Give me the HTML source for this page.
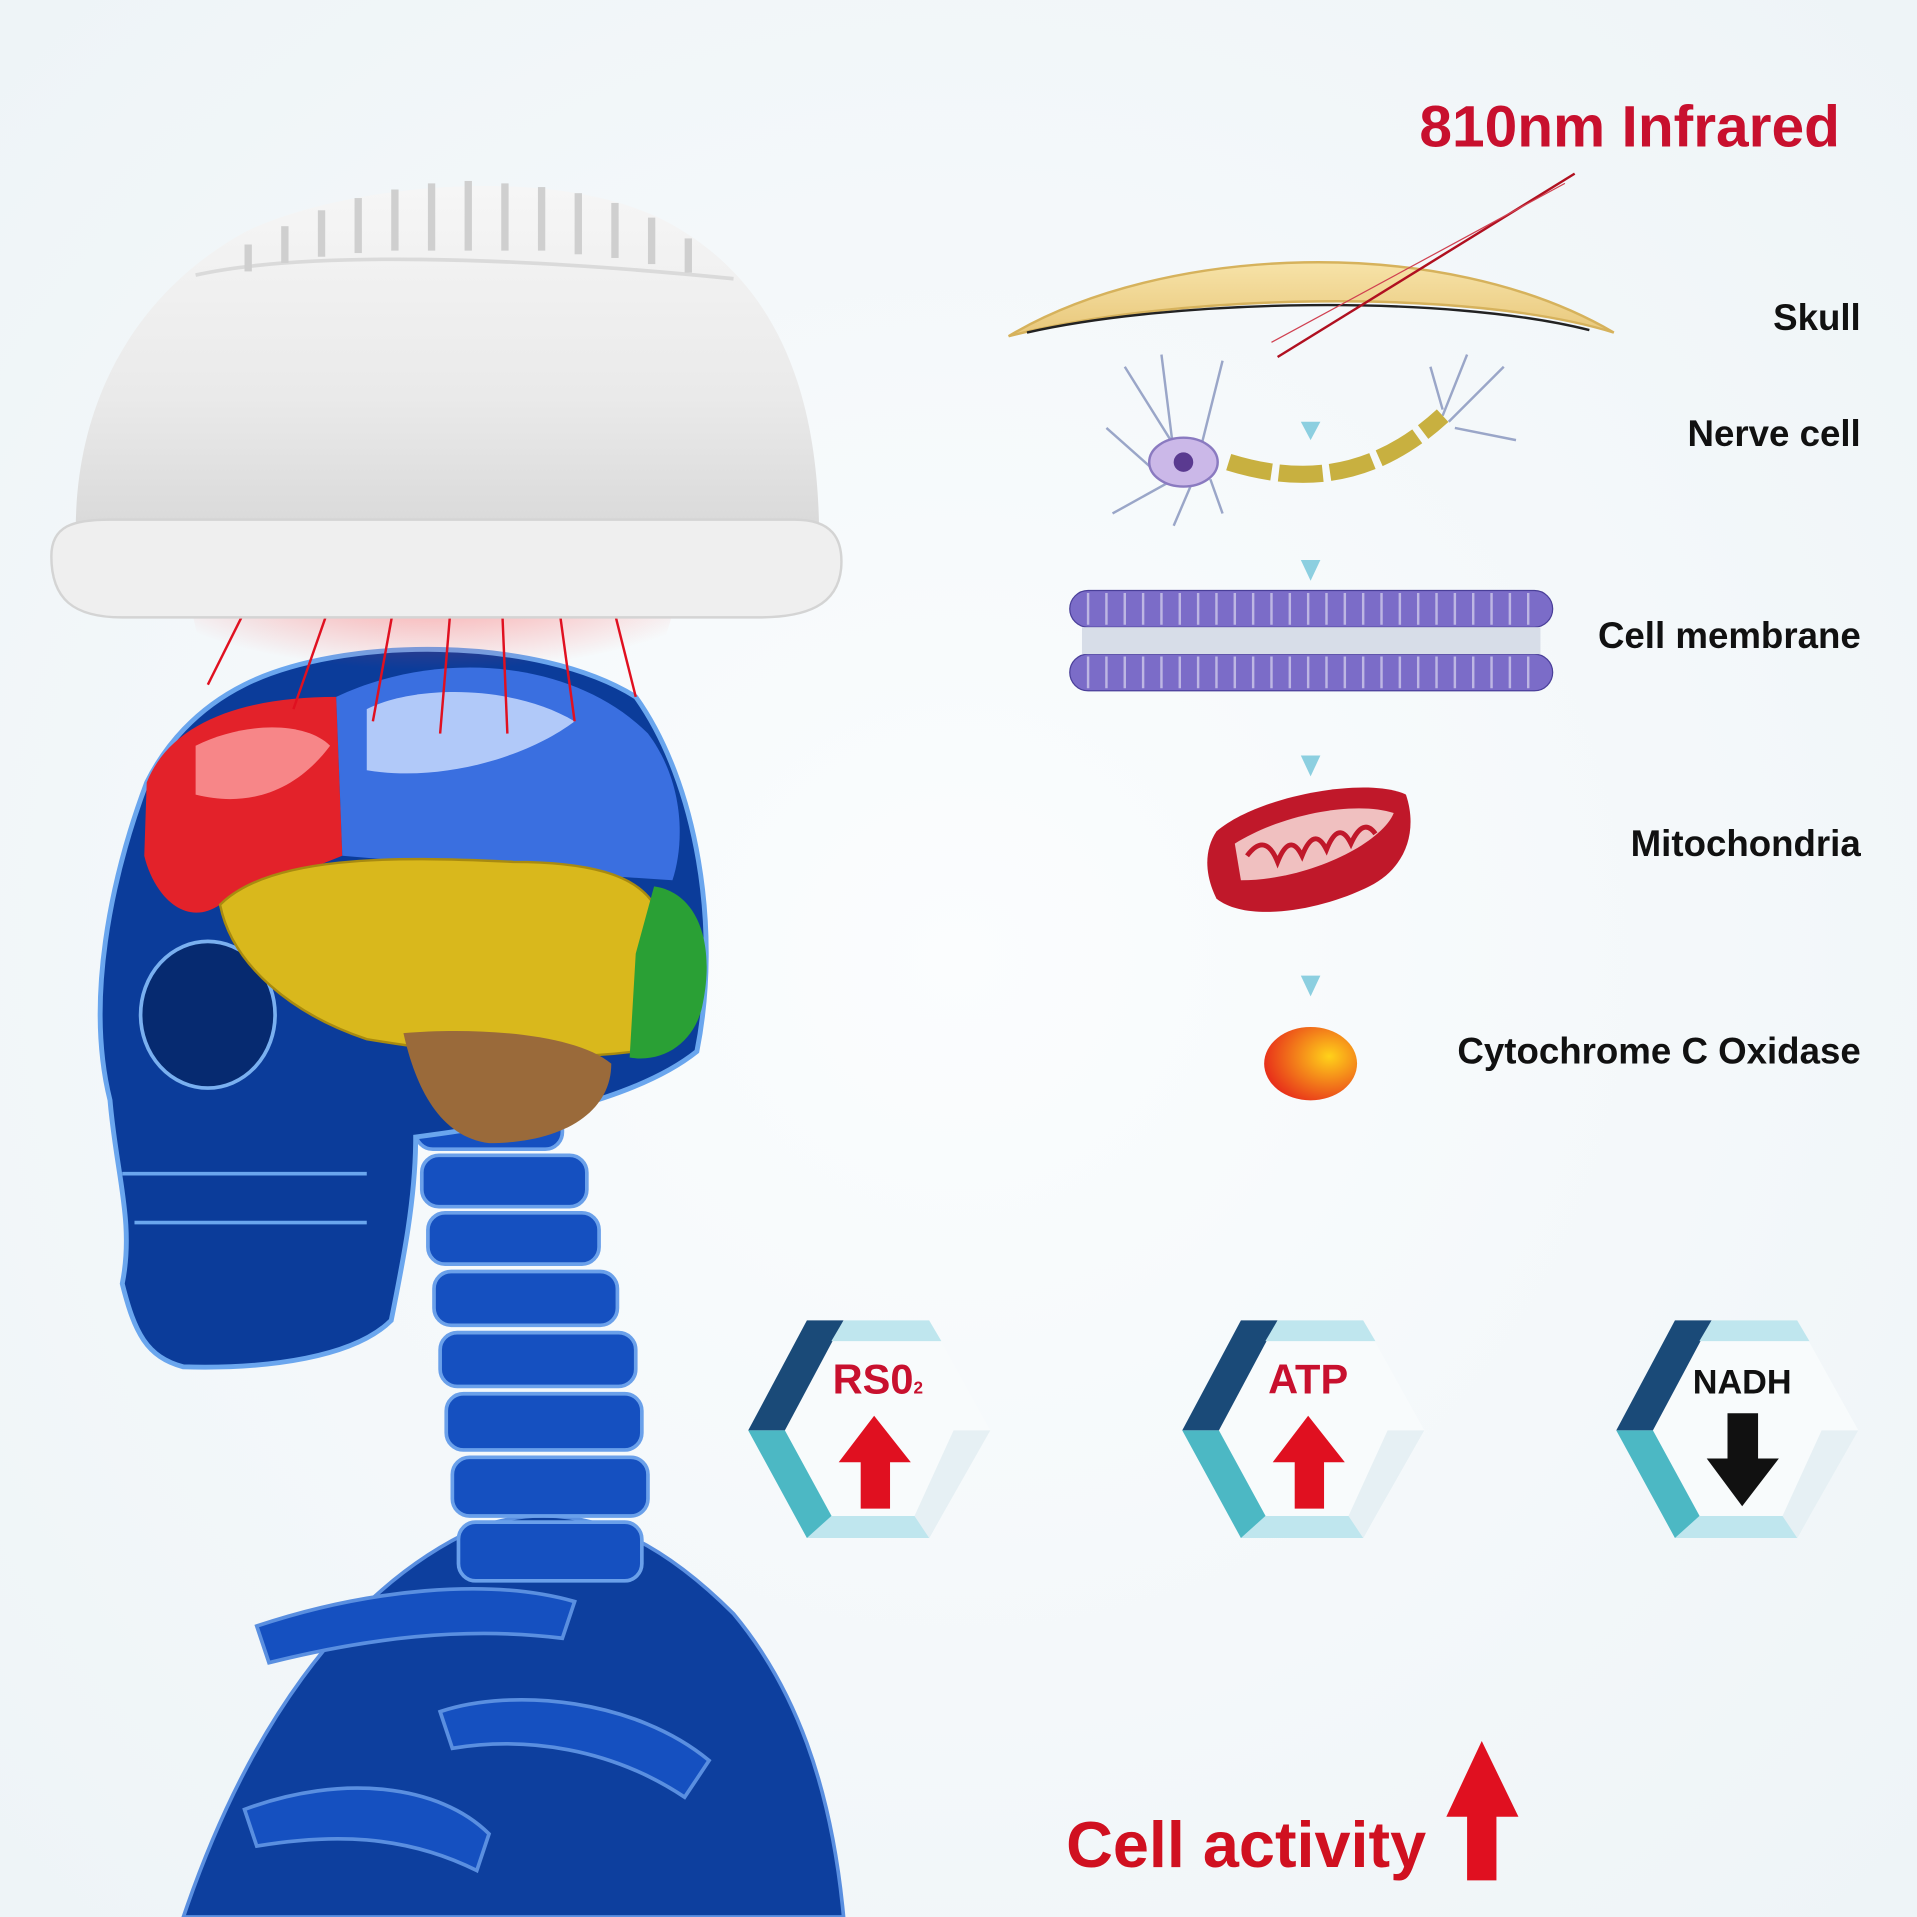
<!DOCTYPE html>
<html><head><meta charset="utf-8"><style>
html,body{margin:0;padding:0;background:#f3f7f9;}
svg{display:block;width:1917px;height:1917px;}
text{font-family:"Liberation Sans",sans-serif;}
</style></head><body>
<svg viewBox="0 0 1568 1568" xmlns="http://www.w3.org/2000/svg">
<defs>
<radialGradient id="bg" cx="0.5" cy="0.5" r="0.7"><stop offset="0" stop-color="#fbfdfe"/><stop offset="1" stop-color="#eef4f7"/></radialGradient>
<linearGradient id="helm" x1="0" y1="0" x2="0" y2="1"><stop offset="0" stop-color="#f6f6f6"/><stop offset="0.6" stop-color="#eaeaea"/><stop offset="1" stop-color="#d8d8d8"/></linearGradient>
<radialGradient id="ball" cx="0.7" cy="0.4" r="0.7"><stop offset="0" stop-color="#ffd21a"/><stop offset="1" stop-color="#e8321a"/></radialGradient>
<radialGradient id="glow" cx="0.5" cy="0" r="0.6"><stop offset="0" stop-color="#ff4040" stop-opacity="0.55"/><stop offset="1" stop-color="#ff4040" stop-opacity="0"/></radialGradient>
<linearGradient id="skullg" x1="0" y1="0" x2="0" y2="1"><stop offset="0" stop-color="#f7e3a8"/><stop offset="1" stop-color="#e8c77a"/></linearGradient>
</defs>
<rect width="1568" height="1568" fill="url(#bg)"/>

<g fill="#0d3f9e" stroke="#5a8fe0" stroke-width="3">
<path d="M150 1568 C200 1420 280 1300 390 1250 C470 1220 540 1260 600 1320 C650 1380 680 1460 690 1568 Z"/>
<path d="M210 1330 C300 1300 400 1290 470 1310 L460 1340 C380 1330 300 1340 220 1360 Z" fill="#1550c0"/>
<path d="M360 1400 C420 1380 520 1390 580 1440 L560 1470 C500 1430 430 1420 370 1430 Z" fill="#1550c0"/>
<path d="M200 1480 C280 1450 360 1460 400 1500 L390 1530 C330 1500 270 1500 210 1510 Z" fill="#1550c0"/>
</g>
<g fill="#1550c0" stroke="#6aa0ea" stroke-width="3">
<rect x="340" y="900" width="120" height="40" rx="14"/>
<rect x="345" y="945" width="135" height="42" rx="14"/>
<rect x="350" y="992" width="140" height="42" rx="14"/>
<rect x="355" y="1040" width="150" height="44" rx="14"/>
<rect x="360" y="1090" width="160" height="44" rx="14"/>
<rect x="365" y="1140" width="160" height="46" rx="14"/>
<rect x="370" y="1192" width="160" height="48" rx="14"/>
<rect x="375" y="1245" width="150" height="48" rx="14"/>
</g>
<path d="M120 640 C90 720 70 820 90 900 C95 960 110 1000 100 1050 C110 1090 120 1110 150 1118 C220 1120 290 1110 320 1080 C330 1030 340 980 340 930 C420 920 520 900 570 860 C590 760 570 640 520 570 C440 520 280 520 200 560 C160 580 135 610 120 640 Z" fill="#0b3c9a" stroke="#6aa6ee" stroke-width="4"/>
<path d="M100 960 L300 960 M110 1000 L300 1000" stroke="#6aa6ee" stroke-width="3"/>
<ellipse cx="170" cy="830" rx="55" ry="60" fill="#062a70" stroke="#7ab0f0" stroke-width="3"/>
<path d="M120 640 C140 590 200 570 275 570 L280 700 L180 740 C150 760 125 730 118 700 Z" fill="#e3222a"/>
<path d="M275 570 C360 530 470 540 530 600 C560 640 560 690 550 720 L400 710 L280 700 Z" fill="#3a6fe0"/>
<path d="M300 580 C340 560 420 560 470 590 C430 620 360 640 300 630 Z" fill="#cfe0ff" opacity="0.8"/>
<path d="M160 610 C200 590 250 590 270 610 C240 650 200 660 160 650 Z" fill="#ffb0b0" opacity="0.7"/>
<path d="M180 740 C220 700 320 700 420 705 C480 705 520 715 535 740 L520 860 C440 870 360 860 300 850 C240 830 190 790 180 740 Z" fill="#d9b81c" stroke="#a88a10" stroke-width="2"/>
<path d="M535 725 C570 730 585 770 575 820 C570 850 545 870 515 865 L520 780 Z" fill="#2aa035"/>
<path d="M330 845 C390 840 470 845 500 870 C500 910 460 935 400 935 C360 930 340 890 330 845 Z" fill="#9a6a3a"/>
<path d="M150 470 L560 470 L520 600 L180 600 Z" fill="url(#glow)"/>
<g stroke="#e01020" stroke-width="2">
<line x1="205" y1="490" x2="170" y2="560"/><line x1="275" y1="480" x2="240" y2="580"/>
<line x1="325" y1="480" x2="305" y2="590"/><line x1="370" y1="480" x2="360" y2="600"/>
<line x1="410" y1="480" x2="415" y2="600"/><line x1="455" y1="480" x2="470" y2="590"/>
<line x1="500" y1="490" x2="520" y2="570"/>
</g>
<path d="M62 440 C60 330 110 240 200 190 C280 150 470 130 560 190 C640 240 670 330 670 440 Z" fill="url(#helm)"/>
<path d="M160 225 C250 205 420 210 600 228" stroke="#dadada" stroke-width="3" fill="none"/>
<g fill="#cfcfcf">
<rect x="200" y="200" width="6" height="22"/><rect x="230" y="185" width="6" height="30"/><rect x="260" y="172" width="6" height="38"/>
<rect x="290" y="162" width="6" height="45"/><rect x="320" y="155" width="6" height="50"/><rect x="350" y="150" width="6" height="55"/>
<rect x="380" y="148" width="6" height="57"/><rect x="410" y="150" width="6" height="55"/><rect x="440" y="153" width="6" height="52"/>
<rect x="470" y="158" width="6" height="50"/><rect x="500" y="166" width="6" height="45"/><rect x="530" y="178" width="6" height="38"/>
<rect x="560" y="195" width="6" height="28"/>
</g>
<path d="M42 455 C42 430 60 425 90 425 L650 425 C680 425 690 440 688 465 C685 495 660 505 620 505 L100 505 C60 505 42 490 42 455 Z" fill="#efefef" stroke="#d4d4d4" stroke-width="2"/>

<text x="1505" y="120" text-anchor="end" font-size="48" font-weight="bold" fill="#c8102e">810nm Infrared</text>
<path d="M825 275 C950 200 1180 190 1320 272 C1200 235 960 240 825 275 Z" fill="url(#skullg)" stroke="#d6b25c" stroke-width="2"/>
<path d="M840 272 C960 245 1180 240 1300 270" stroke="#222" stroke-width="2" fill="none"/>
<line x1="1045" y1="292" x2="1288" y2="142" stroke="#b01020" stroke-width="2"/>
<line x1="1040" y1="280" x2="1280" y2="150" stroke="#d04050" stroke-width="1"/>
<g stroke="#9aa6c8" stroke-width="2" fill="none">
<path d="M970 380 L920 300 M960 370 L950 290 M980 375 L1000 295 M950 390 L905 350 M955 395 L910 420 M975 395 L960 430 M990 392 L1000 420"/>
<path d="M1180 340 L1200 290 M1185 345 L1230 300 M1190 350 L1240 360 M1180 335 L1170 300"/>
</g>
<ellipse cx="968" cy="378" rx="28" ry="20" fill="#cbb8e8" stroke="#8a7ac0" stroke-width="2"/>
<circle cx="968" cy="378" r="8" fill="#5a3a90"/>
<path d="M1005 378 C1060 395 1120 395 1180 340" stroke="#c8b040" stroke-width="14" stroke-dasharray="36 6" fill="none"/>
<g fill="#8ccfe0">
<path d="M1064 345 L1080 345 L1072 360 Z"/><path d="M1064 458 L1080 458 L1072 475 Z"/>
<path d="M1064 618 L1080 618 L1072 635 Z"/><path d="M1064 798 L1080 798 L1072 815 Z"/>
</g>
<g fill="#7b6cc8" stroke="#4a3f99" stroke-width="1">
<rect x="875" y="483" width="395" height="30" rx="15"/>
<rect x="875" y="535" width="395" height="30" rx="15"/>
</g>
<rect x="885" y="513" width="375" height="22" fill="#d7dde8"/>
<g stroke="#ffffff" stroke-width="2" opacity="0.5">
<path d="M890 485 V511 M905 485 V511 M920 485 V511 M935 485 V511 M950 485 V511 M965 485 V511 M980 485 V511 M995 485 V511 M1010 485 V511 M1025 485 V511 M1040 485 V511 M1055 485 V511 M1070 485 V511 M1085 485 V511 M1100 485 V511 M1115 485 V511 M1130 485 V511 M1145 485 V511 M1160 485 V511 M1175 485 V511 M1190 485 V511 M1205 485 V511 M1220 485 V511 M1235 485 V511 M1250 485 V511"/>
<path d="M890 537 V563 M905 537 V563 M920 537 V563 M935 537 V563 M950 537 V563 M965 537 V563 M980 537 V563 M995 537 V563 M1010 537 V563 M1025 537 V563 M1040 537 V563 M1055 537 V563 M1070 537 V563 M1085 537 V563 M1100 537 V563 M1115 537 V563 M1130 537 V563 M1145 537 V563 M1160 537 V563 M1175 537 V563 M1190 537 V563 M1205 537 V563 M1220 537 V563 M1235 537 V563 M1250 537 V563"/>
</g>
<path d="M995 680 C1030 650 1120 635 1150 650 C1160 680 1150 710 1120 725 C1080 745 1020 755 995 735 C985 715 985 695 995 680 Z" fill="#c0182a"/>
<path d="M1010 690 C1050 665 1110 655 1140 665 C1130 690 1070 720 1015 720 Z" fill="#f0c0c0"/>
<path d="M1020 700 Q1035 680 1045 705 Q1055 680 1065 700 Q1075 675 1085 695 Q1095 670 1105 690 Q1115 668 1125 682" stroke="#c0182a" stroke-width="4" fill="none"/>
<ellipse cx="1072" cy="870" rx="38" ry="30" fill="url(#ball)"/>

<g font-size="30" font-weight="bold" fill="#111" text-anchor="end">
<text x="1522" y="270">Skull</text>
<text x="1522" y="365">Nerve cell</text>
<text x="1522" y="530">Cell membrane</text>
<text x="1522" y="700">Mitochondria</text>
<text x="1522" y="870">Cytochrome C Oxidase</text>
</g>

<g id="hex">
<path d="M660 1080 L760 1080 L810 1170 L760 1258 L660 1258 L612 1170 Z" fill="#f8fbfc"/>
<path d="M660 1080 L690 1080 L642 1170 L612 1170 Z" fill="#1a4a78"/>
<path d="M612 1170 L642 1170 L690 1258 L660 1258 Z" fill="#4cb8c4"/>
<path d="M690 1080 L760 1080 L770 1097 L680 1097 Z" fill="#bfe6ee"/>
<path d="M660 1258 L760 1258 L770 1240 L680 1240 Z" fill="#bfe6ee"/>
<path d="M780 1170 L810 1170 L760 1258 L748 1240 Z" fill="#e6f0f4"/>
</g>
<use href="#hex" x="355"/>
<use href="#hex" x="710"/>
<text x="718" y="1140" text-anchor="middle" font-size="34" font-weight="bold" fill="#c8102e">RS0<tspan font-size="14">2</tspan></text>
<text x="1070" y="1140" text-anchor="middle" font-size="34" font-weight="bold" fill="#c8102e">ATP</text>
<text x="1425" y="1140" text-anchor="middle" font-size="28" font-weight="bold" fill="#111">NADH</text>
<path d="M715 1158 L745 1196 L728 1196 L728 1234 L704 1234 L704 1196 L686 1196 Z" fill="#e01020"/>
<path d="M1070 1158 L1100 1196 L1083 1196 L1083 1234 L1059 1234 L1059 1196 L1041 1196 Z" fill="#e01020"/>
<path d="M1425 1232 L1455 1193 L1438 1193 L1438 1156 L1413 1156 L1413 1193 L1396 1193 Z" fill="#111"/>

<text x="872" y="1527" font-size="53" font-weight="bold" fill="#d01020">Cell activity</text>
<path d="M1212 1424 L1242 1486 L1224 1486 L1224 1538 L1200 1538 L1200 1486 L1183 1486 Z" fill="#e01020"/>
</svg>
</body></html>
